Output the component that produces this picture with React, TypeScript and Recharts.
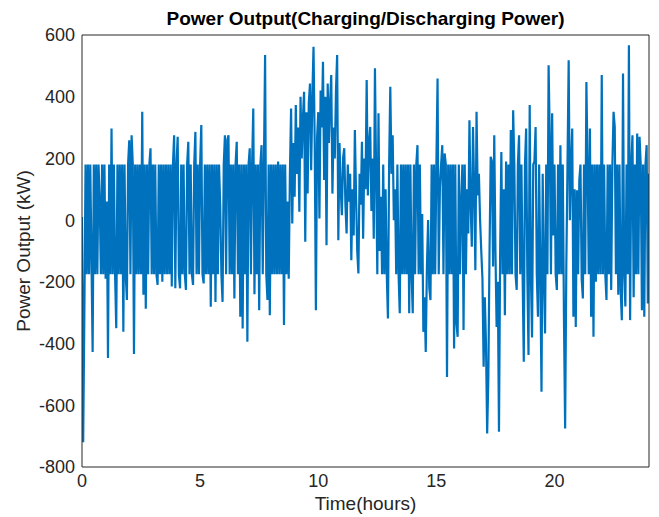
import { LineChart, Line, XAxis, YAxis } from 'recharts'

// battery power in kW, one sample every 3 minutes (0.05 h)
const STEP_HOURS = 0.05

const hours0to4 = [
  10, -720, -300, 180, -175, 180, -175, 180, -120, -427, 180, -175, 180, -175, 180, 60, -175, 180, -175, 180,
  -190, 60, -447, 180, -175, 297, -175, 180, -175, -350, 180, -175, 180, -175, 180, -362, 180, -175, -259, 180,
  259, -175, 275, 180, -434, 180, -175, 180, -175, 180, -175, 351, -242, 180, -287, 180, -175, 180, 233, -175,
  180, -175, 180, -175, -210, 180, -175, 180, -200, 180, -175, 180, -175, 180, -175, 180, -215, 180, 275, -221,
]

const hours4to8 = [
  180, 270, -175, -221, 180, -175, 180, -175, -226, 180, 254, -175, 180, -175, -210, 180, 286, -175, 180, -175,
  180, 308, -175, -205, 180, -175, 180, -175, 180, -281, 180, -175, 180, -265, 180, -175, 180, 50, -175, -265,
  180, 275, -175, 260, 275, -175, 180, -175, 180, -254, 180, 254, -175, 180, -313, 180, -351, 180, -175, 180,
  -394, 180, 233, -175, 180, 362, -240, 180, -175, 180, -292, 180, 243, -175, 180, 535, -175, -259, 180, -308,
]

const hours8to12 = [
  180, -175, 180, -175, 180, -175, 190, -175, 180, -175, 180, -340, 180, -175, 60, -190, 150, 362, -11, 250,
  76, 373, 150, 300, 27, 400, 200, 330, 416, -70, 350, 86, 380, 443, 162, 400, 562, 250, -292, 265,
  350, 5, 420, 300, 513, 130, 400, -81, 443, 250, 380, 470, 86, 300, 200, 420, 535, -65, 250, 100,
  16, 200, 233, 50, -43, 180, 60, 150, -130, 100, -50, 292, 80, -100, -173, 150, 50, 254, -60, 200,
]

const hours12to16 = [
  100, 454, 80, 250, 302, 30, 200, -60, 492, 150, -175, 346, -100, 76, -175, 180, -175, 100, -175, -319,
  180, 432, 150, 275, 0, 100, -175, 180, -175, -302, 180, -175, 180, -175, 180, -175, 180, -302, 180, -175,
  -302, 180, -175, 180, 243, -175, 180, -175, 20, -362, -250, -427, -150, 0, -220, -259, 180, -175, 180, -175,
  180, 459, -175, 108, 180, 243, -175, 216, 180, -508, 180, -175, 180, -175, 180, -416, 180, -335, -378, 180,
]

const hours16to20 = [
  -175, 59, 180, -356, 180, -175, 100, -43, 324, 50, -86, 302, 100, -162, 351, 80, 150, 0, -100, -190,
  -475, -250, -400, -691, -508, -100, 205, 190, -150, 275, -100, -346, -200, -686, -100, 221, -175, 100, -308, 190,
  -175, 180, -175, 292, -175, 356, 180, -175, -226, 180, 275, -175, 180, -175, -459, 180, 297, -175, -437, 373,
  -175, -380, 180, 190, 302, -175, -313, 180, -175, -556, 150, -175, -367, 180, -175, 502, 265, -175, 346, -50,
]

const hours20to24 = [
  180, -175, -226, 180, -175, 243, -175, 180, -313, -675, -150, 180, 518, 0, 180, 297, -313, 100, -346, 97,
  -175, 130, 180, -190, -254, 180, -175, 448, 180, -175, 297, -313, 180, -378, 180, -200, 180, -175, 180, -175,
  470, -175, 180, -175, -259, 180, -175, 180, -226, 180, 351, 302, -175, 180, -242, 180, -226, -324, 475, -175,
  -280, 180, -175, 567, -324, 180, 275, -250, 180, -175, 281, -175, 270, 180, -292, 180, -313, 180, 243, -270,
  150,
]

const xTicks = [0, 5, 10, 15, 20]
const yTicks = [-800, -600, -400, -200, 0, 200, 400, 600]

const power = [...hours0to4, ...hours4to8, ...hours8to12, ...hours12to16, ...hours16to20, ...hours20to24]
const data = power.map((kw, i) => ({ t: Math.round(i * STEP_HOURS * 100) / 100, kw }))

const INK = '#262626'
const LINE_BLUE = '#0072BD'
const FONT = '"Liberation Sans", Arial, Helvetica, sans-serif'

export default function App() {
  return (
    <div style={{ position: 'absolute', left: 0, top: 0, width: 659, height: 517, background: '#fff', fontFamily: FONT }}>
      <div
        style={{
          position: 'absolute', left: 82, width: 567, top: 9, textAlign: 'center',
          fontSize: 19, fontWeight: 'bold', lineHeight: '20px', color: '#000',
        }}
      >
        Power Output(Charging/Discharging Power)
      </div>
      <div
        style={{
          position: 'absolute', left: 82, width: 567, top: 494, textAlign: 'center',
          fontSize: 19, lineHeight: '20px', color: INK,
        }}
      >
        Time(hours)
      </div>
      <div
        style={{
          position: 'absolute', left: 24, top: 251, width: 0, height: 0,
        }}
      >
        <div
          style={{
            position: 'absolute', left: -120, top: -10, width: 240, textAlign: 'center',
            fontSize: 19, lineHeight: '20px', color: INK, transform: 'rotate(-90deg)', whiteSpace: 'nowrap',
          }}
        >
          Power Output (kW)
        </div>
      </div>
      <LineChart
        width={659}
        height={517}
        data={data}
        margin={{ top: 35, right: 10, bottom: 0, left: 0 }}
        style={{ position: 'absolute', left: 0, top: 0 }}
      >
        {/* labelled axes */}
        <XAxis
          xAxisId="main" dataKey="t" type="number" domain={[0, 24]} ticks={xTicks} allowDataOverflow
          height={50} tickLine={false} tickSize={5} tickMargin={2}
          axisLine={{ stroke: INK }} tick={{ fill: INK, fontSize: 18, fontFamily: FONT }}
        />
        <YAxis
          yAxisId="main" type="number" domain={[-800, 600]} ticks={yTicks} allowDataOverflow
          width={82} tickLine={false} tickSize={5} tickMargin={2}
          axisLine={{ stroke: INK }} tick={{ fill: INK, fontSize: 18, fontFamily: FONT }}
        />
        {/* inward ticks and the closing box */}
        <XAxis
          xAxisId="bottomTicks" dataKey="t" type="number" domain={[0, 24]} ticks={xTicks} allowDataOverflow
          mirror tick={false} tickSize={5} axisLine={false} tickLine={{ stroke: INK }}
        />
        <XAxis
          xAxisId="topTicks" orientation="top" dataKey="t" type="number" domain={[0, 24]} ticks={xTicks} allowDataOverflow
          mirror tick={false} tickSize={5} axisLine={{ stroke: INK }} tickLine={{ stroke: INK }}
        />
        <YAxis
          yAxisId="leftTicks" type="number" domain={[-800, 600]} ticks={yTicks} allowDataOverflow
          mirror tick={false} tickSize={5} axisLine={false} tickLine={{ stroke: INK }}
        />
        <YAxis
          yAxisId="rightTicks" orientation="right" type="number" domain={[-800, 600]} ticks={yTicks} allowDataOverflow
          mirror tick={false} tickSize={5} axisLine={{ stroke: INK }} tickLine={{ stroke: INK }}
        />
        <Line
          xAxisId="main" yAxisId="main" dataKey="kw" type="linear"
          stroke={LINE_BLUE} strokeWidth={2.2} strokeLinejoin="miter" strokeMiterlimit={1}
          dot={false} activeDot={false} isAnimationActive={false}
        />
      </LineChart>
    </div>
  )
}
